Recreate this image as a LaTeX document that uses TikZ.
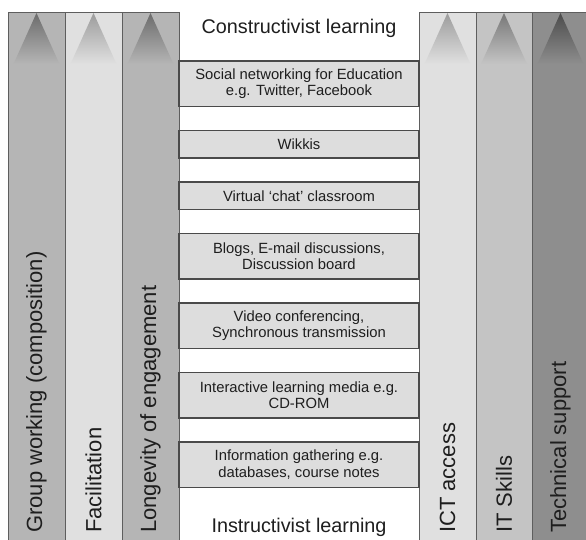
\documentclass[tikz,border=0pt]{standalone}
\usepackage{fontspec}
\setmainfont{Liberation Sans}
\usetikzlibrary{positioning}
\definecolor{barA}{HTML}{B5B5B5}
\definecolor{barB}{HTML}{E0E0E0}
\definecolor{barC}{HTML}{C4C4C4}
\definecolor{barD}{HTML}{8E8E8E}
\definecolor{tipA}{HTML}{6C6C6C}
\definecolor{tipB}{HTML}{9C9C9C}
\definecolor{tipC}{HTML}{787878}
\definecolor{tipD}{HTML}{4C4C4C}
\definecolor{boxgray}{HTML}{DDDDDD}
\definecolor{linegray}{HTML}{4A4A4A}
\definecolor{bargray}{HTML}{5E5E5E}
\definecolor{textgray}{HTML}{1E1E1E}

\begin{document}
\begin{tikzpicture}[x=1pt, y=-1pt,
    bar/.style={draw=bargray, line width=1pt},
    item/.style={draw=linegray, line width=1.1pt, fill=boxgray,
      minimum width=240pt, minimum height=27.5pt, inner sep=0pt, outer sep=0pt,
      align=center, text=textgray, font=\fontsize{14.8}{16.5}\selectfont},
    tall/.style={item, minimum height=45.5pt},
    barlabel/.style={rotate=90, anchor=west, inner sep=0pt, text=textgray,
      font=\fontsize{22}{26}\selectfont},
    title/.style={anchor=base, text=textgray, font=\fontsize{19.8}{24}\selectfont}]
    \useasboundingbox (0,0) rectangle (586,539);
    % the six bars with their arrow heads
    \foreach \xa/\xb/\barfill/\tipfill in {8/65/barA/tipA, 65/122/barB/tipB,
      122/179/barA/tipA, 419/476/barB/tipB, 476/532/barC/tipC, 532/589/barD/tipD}{
      \fill[\barfill] (\xa,12) rectangle (\xb,545);
      \shade[top color=\tipfill, bottom color=\barfill]
        ({(\xa+\xb)/2},13) -- ({(\xa+\xb)/2+23},64) -- ({(\xa+\xb)/2-23},64) -- cycle;
      \draw[bar] (\xa,12) rectangle (\xb,545);
    }
    % scale ends
    \node[title] (constr) at (299,33) {Constructivist learning};
    \node[title] (instr) at (299,532) {Instructivist learning};
    % tools, from constructivist down to instructivist
    \node[tall] (social) at (299,83.75) {Social networking for Education\\e.g. Twitter, Facebook};
    \node[item, below=24pt of social] (wikkis) {Wikkis};
    \node[item, below=24pt of wikkis] (chat) {Virtual `chat' classroom};
    \node[tall, below=24pt of chat] (blogs) {Blogs, E-mail discussions,\\Discussion board};
    \node[tall, below=24pt of blogs] (video) {Video conferencing,\\Synchronous transmission};
    \node[tall, below=24pt of video] (media) {Interactive learning media e.g.\\CD-ROM};
    \node[tall, below=24pt of media] (info) {Information gathering e.g.\\databases, course notes};
    % bar labels
    \node[barlabel] (group) at (36.5,533) {Group working (composition)};
    \node[barlabel] (facil) at (93.5,533) {Facilitation};
    \node[barlabel] (longev) at (150.5,533) {Longevity of engagement};
    \node[barlabel] (ict) at (447.5,533) {ICT access};
    \node[barlabel] (skills) at (504,533) {IT Skills};
    \node[barlabel] (support) at (560.5,533) {Technical support};
  \end{tikzpicture}
\end{document}
